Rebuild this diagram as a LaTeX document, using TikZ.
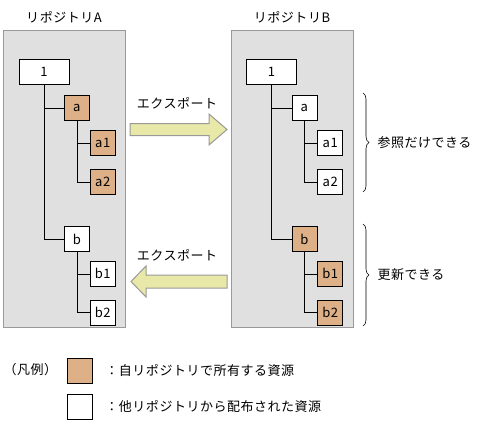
\documentclass[tikz,border=0pt]{standalone}
\usepackage{fontspec}
\setmainfont[LetterSpace=4]{Noto Sans CJK JP}
\usetikzlibrary{positioning,decorations.pathreplacing}

\definecolor{owned}{HTML}{DEB087}
\definecolor{repofill}{HTML}{E0E0E0}
\definecolor{repoline}{HTML}{999999}
\definecolor{exportfill}{HTML}{E8E8A8}

\begin{document}
\begin{tikzpicture}[x=1pt,y=-1pt,font=\fontsize{13}{15}\selectfont,
  repo/.style={draw=repoline,fill=repofill,line width=1pt,minimum width=122pt,minimum height=297pt,inner sep=0pt},
  res/.style={draw,line width=0.8pt,fill=white,minimum width=25pt,minimum height=25pt,inner sep=0pt},
  own/.style={res,fill=owned},
  root/.style={res,minimum width=50pt},
  tree/.style={line width=0.8pt},
  export/.style={draw=repoline,fill=exportfill,line width=1pt},
  bracket/.style={decorate,decoration={brace,amplitude=6pt},line width=0.6pt}]
  \useasboundingbox (0,0) rectangle (492,423);

  % repositories
  \node[repo] (repoA) at (64,178.5) {};
  \node[repo] (repoB) at (292,178.5) {};
  \node[above=3pt of repoA] (titleA) {リポジトリA};
  \node[above=3pt of repoB] (titleB) {リポジトリB};

  % tree in A
  \node[root] (1A) at (44,71.5) {1};
  \node[own,below right=11pt and 20pt of 1A.south] (aA) {a};
  \node[own,below right=9pt and 0pt of aA.south east] (a1A) {a1};
  \node[own,below=13pt of a1A] (a2A) {a2};
  \node[res,below=105pt of aA] (bA) {b};
  \node[res,below right=9pt and 0pt of bA.south east] (b1A) {b1};
  \node[res,below=13pt of b1A] (b2A) {b2};
  \draw[tree] (1A) |- (aA) (1A) |- (bA)
              (aA) |- (a1A) (aA) |- (a2A)
              (bA) |- (b1A) (bA) |- (b2A);

  % tree in B
  \node[root] (1B) at (271.5,71.5) {1};
  \node[res,below right=11pt and 20pt of 1B.south] (aB) {a};
  \node[res,below right=9pt and 0pt of aB.south east] (a1B) {a1};
  \node[res,below=13pt of a1B] (a2B) {a2};
  \node[own,below=105pt of aB] (bB) {b};
  \node[own,below right=9pt and 0pt of bB.south east] (b1B) {b1};
  \node[own,below=13pt of b1B] (b2B) {b2};
  \draw[tree] (1B) |- (aB) (1B) |- (bB)
              (aB) |- (a1B) (aB) |- (a2B)
              (bB) |- (b1B) (bB) |- (b2B);

  % export arrows
  \draw[export] (130,123.5) -- (209,123.5) -- (209,114) -- (227,129.5)
    -- (209,145) -- (209,135.5) -- (130,135.5) -- cycle;
  \node (exportAB) at (177,103) {エクスポート};
  \draw[export] (227,275) -- (146,275) -- (146,266) -- (131,281.5)
    -- (146,297) -- (146,288) -- (227,288) -- cycle;
  \node (exportBA) at (177,255) {エクスポート};

  % braces
  \draw[bracket] (363,93) -- (363,192) node[midway,right=11pt] (readonly) {参照だけできる};
  \draw[bracket] (363,224) -- (363,326) node[midway,right=11pt] (writable) {更新できる};

  % legend
  \node[anchor=west] (legend) at (0,370) {（凡例）};
  \node[own] (keyOwn) at (80,370.5) {};
  \node[res] (keyOther) at (80,406.5) {};
  \node[right=9pt of keyOwn] (textOwn) {：自リポジトリで所有する資源};
  \node[right=9pt of keyOther] (textOther) {：他リポジトリから配布された資源};
\end{tikzpicture}
\end{document}
